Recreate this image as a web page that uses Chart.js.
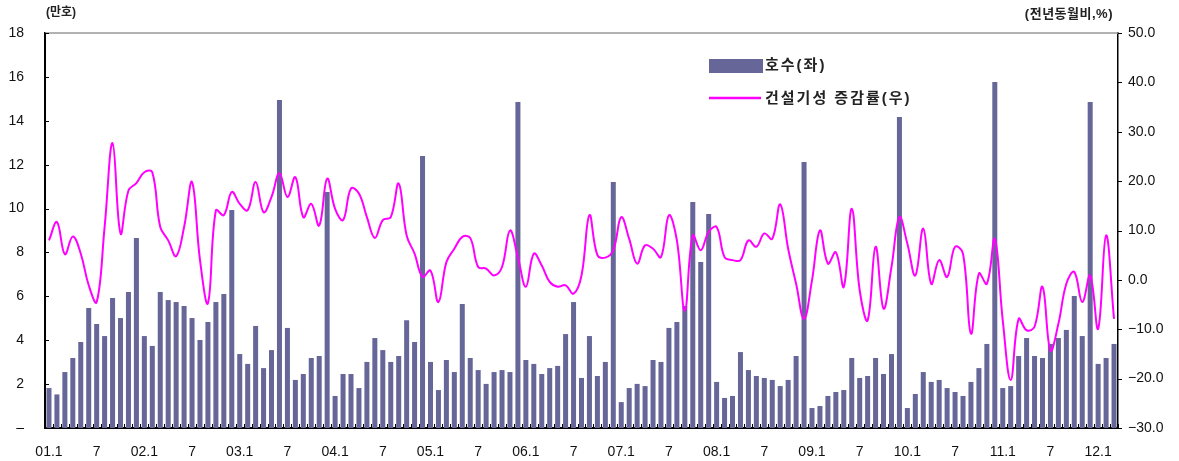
<!DOCTYPE html>
<html lang="ko">
<head>
  <meta charset="UTF-8">
  <title>주택 인허가 호수와 건설기성 증감률</title>
  <script src="https://cdn.jsdelivr.net/npm/chart.js"></script>
  <style>
    body { margin: 0; background: #fff; }
    #chart { display: block; }
  </style>
</head>
<body>
  <canvas id="chart" width="1179" height="461"></canvas>

  <script>
    // 기간: 2001.1 ~ 2012.3 (월별)
    const years = ["01", "02", "03", "04", "05", "06", "07", "08", "09", "10", "11", "12"];
    const lastYearMonths = 3;

    // 호수 (만호, 좌축)
    const houses = [
      1.82, 1.53, 2.55, 3.19, 3.92, 5.47, 4.74, 4.19, 5.92, 5.01, 6.20, 8.66,
      4.19, 3.74, 6.20, 5.83, 5.74, 5.56, 5.01, 4.01, 4.83, 5.74, 6.11, 9.93,
      3.37, 2.92, 4.65, 2.73, 3.55, 14.95, 4.56, 2.19, 2.46, 3.19, 3.28, 10.75,
      1.46, 2.46, 2.46, 1.82, 3.01, 4.10, 3.55, 3.01, 3.28, 4.91, 3.92, 12.40,
      3.01, 1.73, 3.10, 2.55, 5.65, 3.19, 2.64, 2.01, 2.55, 2.64, 2.55, 14.86,
      3.10, 2.92, 2.46, 2.73, 2.83, 4.28, 5.74, 2.28, 4.19, 2.37, 3.01, 11.21,
      1.18, 1.82, 2.01, 1.91, 3.10, 3.01, 4.56, 4.83, 5.56, 10.30, 7.56, 9.75,
      2.10, 1.37, 1.46, 3.46, 2.64, 2.37, 2.28, 2.19, 1.91, 2.19, 3.28, 12.12,
      0.91, 1.00, 1.46, 1.64, 1.73, 3.19, 2.28, 2.37, 3.19, 2.46, 3.37, 14.17,
      0.91, 1.55, 2.55, 2.10, 2.19, 1.82, 1.64, 1.46, 2.10, 2.73, 3.83, 15.77,
      1.82, 1.91, 3.28, 4.10, 3.28, 3.19, 3.83, 4.10, 4.47, 6.02, 4.19, 14.86,
      2.92, 3.19, 3.83
    ];

    // 건설기성 증감률 (전년동월비 %, 우축)
    const growth = [
      8.0, 11.7, 5.2, 8.8, 5.3, -1.1, -4.5, 10.7, 27.7, 9.4, 18.1, 19.6,
      21.8, 21.8, 10.7, 8.0, 4.8, 10.7, 19.8, 4.0, -4.7, 14.1, 13.1, 17.8,
      15.4, 14.1, 19.8, 13.7, 16.8, 21.6, 16.8, 20.8, 12.7, 15.4, 11.0, 20.5,
      14.4, 12.1, 18.5, 17.5, 12.7, 8.5, 12.1, 12.7, 19.5, 9.0, 5.3, 0.6,
      1.9, -4.5, 3.6, 6.3, 8.7, 8.5, 2.6, 2.3, 0.9, 2.6, 10.0, 4.6,
      -1.4, 5.3, 2.9, -0.4, -1.4, -1.1, -2.8, 0.9, 13.1, 5.0, 4.5, 6.0,
      12.7, 8.3, 3.3, 7.0, 6.3, 4.6, 13.1, 8.0, -6.2, 9.0, 6.0, 9.7,
      10.7, 4.6, 4.0, 4.0, 8.0, 6.7, 9.4, 8.3, 15.3, 6.3, -0.8, -7.9,
      -0.1, 10.0, 3.3, 5.6, -1.4, 14.4, -2.1, -8.2, 6.7, -5.8, 2.6, 12.7,
      7.3, 0.9, 10.4, -0.8, 4.0, 0.6, 6.7, 5.3, -10.9, 1.3, -0.8, 8.3,
      -8.2, -20.3, -7.9, -10.2, -9.5, -1.4, -14.3, -8.9, -0.8, 1.6, -4.5, 0.9,
      -9.9, 9.0, -7.9
    ];

    const labels = [];
    years.forEach((y, i) => {
      const n = i === years.length - 1 ? lastYearMonths : 12;
      for (let m = 1; m <= n; m++) labels.push(y + "." + m);
    });

    const FONT = "'Liberation Sans', 'Noto Sans CJK KR', sans-serif";
    const BAR_COLOR = "#666699";
    const LINE_COLOR = "#ff00ff";

    // 테두리, 눈금, 범례, 단위 표시
    const extras = {
      id: "extras",
      afterDraw(chart) {
        const ctx = chart.ctx;
        const a = chart.chartArea;
        ctx.save();

        // 위쪽 테두리
        ctx.strokeStyle = "#999";
        ctx.lineWidth = 1.5;
        ctx.beginPath();
        ctx.moveTo(a.left, a.top);
        ctx.lineTo(a.right, a.top);
        ctx.stroke();

        // x축 눈금 (월 경계)
        ctx.strokeStyle = "#000";
        ctx.lineWidth = 1;
        const w = (a.right - a.left) / labels.length;
        ctx.beginPath();
        for (let i = 0; i <= labels.length; i++) {
          const x = Math.round(a.left + i * w) + 0.5;
          ctx.moveTo(x, a.bottom);
          ctx.lineTo(x, a.bottom - 4);
        }
        // 좌축 눈금
        chart.scales.y.ticks.forEach(t => {
          const y = Math.round(chart.scales.y.getPixelForValue(t.value)) + 0.5;
          ctx.moveTo(a.left, y);
          ctx.lineTo(a.left + 4, y);
        });
        // 우축 눈금
        chart.scales.y1.ticks.forEach(t => {
          const y = Math.round(chart.scales.y1.getPixelForValue(t.value)) + 0.5;
          ctx.moveTo(a.right, y);
          ctx.lineTo(a.right + 4, y);
        });
        ctx.stroke();

        // 단위
        ctx.fillStyle = "#222";
        ctx.textBaseline = "middle";
        ctx.textAlign = "left";
        ctx.font = "bold 12px " + FONT;
        ctx.fillText("(만호)", 46, 13);
        ctx.textAlign = "right";
        ctx.font = "bold 13px " + FONT;
        ctx.letterSpacing = "0.5px";
        ctx.fillText("(전년동월비,%)", 1113, 14);

        // 범례
        ctx.textAlign = "left";
        ctx.font = "bold 15px " + FONT;
        ctx.letterSpacing = "2px";
        ctx.fillStyle = BAR_COLOR;
        ctx.fillRect(709, 59, 54, 14);
        ctx.fillStyle = "#222";
        ctx.fillText(chart.data.datasets[1].label, 765, 66);
        ctx.strokeStyle = LINE_COLOR;
        ctx.lineWidth = 2.5;
        ctx.beginPath();
        ctx.moveTo(709, 98);
        ctx.lineTo(761, 98);
        ctx.stroke();
        ctx.fillText(chart.data.datasets[0].label, 765, 99);

        ctx.restore();
      }
    };

    new Chart(document.getElementById("chart"), {
      type: "bar",
      data: {
        labels: labels,
        datasets: [
          {
            type: "line",
            label: "건설기성 증감률(우)",
            data: growth,
            yAxisID: "y1",
            borderColor: LINE_COLOR,
            borderWidth: 2,
            pointRadius: 0,
            tension: 0.4,
            order: 0
          },
          {
            type: "bar",
            label: "호수(좌)",
            data: houses,
            yAxisID: "y",
            backgroundColor: BAR_COLOR,
            barPercentage: 0.63,
            categoryPercentage: 1,
            order: 1
          }
        ]
      },
      options: {
        responsive: false,
        animation: false,
        devicePixelRatio: 1,
        layout: { padding: { top: 33, left: 0, right: 0, bottom: 0 } },
        plugins: { legend: { display: false }, tooltip: { enabled: false } },
        scales: {
          x: {
            offset: true,
            grid: { display: false, drawTicks: false },
            border: { display: true, color: "#000", width: 2 },
            ticks: {
              autoSkip: false,
              maxRotation: 0,
              padding: 16,
              color: "#111",
              font: { family: FONT, size: 14 },
              callback: function (v, i) {
                const m = i % 12;
                if (m === 0) return labels[i];
                if (m === 6) return "7";
                return "";
              }
            },
            afterFit: s => { s.height = 33; }
          },
          y: {
            position: "left",
            min: 0,
            max: 18,
            grid: { display: false, drawTicks: false },
            border: { display: true, color: "#000", width: 2 },
            ticks: {
              stepSize: 2,
              padding: 21,
              color: "#111",
              font: { family: FONT, size: 14 },
              callback: v => (v === 0 ? "–" : v)
            },
            afterFit: s => { s.width = 45; }
          },
          y1: {
            position: "right",
            min: -30,
            max: 50,
            grid: { display: false, drawTicks: false },
            border: { display: true, color: "#000", width: 1.5 },
            ticks: {
              stepSize: 10,
              padding: 10,
              color: "#111",
              font: { family: FONT, size: 14 },
              callback: v => (v < 0 ? "−" + Math.abs(v).toFixed(1) : v.toFixed(1))
            },
            afterFit: s => { s.width = 61; }
          }
        }
      },
      plugins: [extras]
    });
  </script>
</body>
</html>
